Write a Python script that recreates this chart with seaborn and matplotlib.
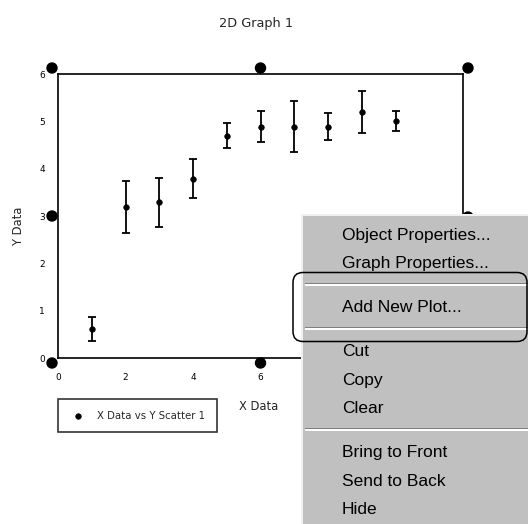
import matplotlib
matplotlib.use("Agg")
import matplotlib.pyplot as plt
import matplotlib.patches as mpatches
import matplotlib.transforms as mtransforms
import pandas as pd
import seaborn as sns

# values
x_data = [1, 2, 3, 4, 5, 6, 7, 8, 9, 10]
y_data = [0.61, 3.20, 3.29, 3.79, 4.70, 4.89, 4.89, 4.89, 5.20, 5.00]
y_err = [0.25, 0.55, 0.52, 0.42, 0.27, 0.32, 0.53, 0.29, 0.45, 0.21]
x_ticks = [0, 2, 4, 6, 8, 10, 12]
y_ticks = [0, 1, 2, 3, 4, 5, 6]
menu_items = ["Object Properties...", "Graph Properties...", None,
              "Add New Plot...", None,
              "Cut", "Copy", "Clear", None,
              "Bring to Front", "Send to Back", "Hide"]

df = pd.DataFrame({"x": x_data, "y": y_data, "err": y_err})

W, H, DPI = 528, 524, 100
sns.set_style("white")
plt.rcParams["font.family"] = ["DejaVu Sans"]

fig = plt.figure(figsize=(W / DPI, H / DPI), dpi=DPI)
# pixel coordinates, origin top-left
pix = mtransforms.Affine2D().scale(1 / DPI, -1 / DPI).translate(0, H / DPI) + fig.dpi_scale_trans

L, R, T, B = 58, 463, 74, 358
ax = fig.add_axes([L / W, 1 - B / H, (R - L) / W, (B - T) / H])

ax.errorbar(df["x"], df["y"], yerr=df["err"], fmt="none", ecolor="black",
            elinewidth=1.3, capsize=2.6, capthick=1.3, zorder=2)
sns.scatterplot(data=df, x="x", y="y", ax=ax, color="black", s=16,
                edgecolor="black", linewidth=0.5, label="X Data vs Y Scatter 1", zorder=3)

ax.set_xlim(0, 12)
ax.set_ylim(0, 6)
ax.set_xticks(x_ticks)
ax.set_yticks(y_ticks)
ax.tick_params(direction="out", length=2.5, width=1, labelsize=6.5, colors="black")
ax.tick_params(axis="x", pad=8)
ax.tick_params(axis="y", pad=7)
for sp in ax.spines.values():
    sp.set_linewidth(1.2)
    sp.set_color("black")

ax.set_xlabel("")
ax.set_ylabel("")
fig.text(259, 407, "X Data", transform=pix, fontsize=8.3, ha="center", va="center")
fig.text(18, 226, "Y Data", transform=pix, fontsize=8.3, ha="center", va="center", rotation=90)
fig.text(256, 23, "2D Graph 1", transform=pix, fontsize=9.3, ha="center", va="center")

leg = ax.legend(loc="upper left", bbox_to_anchor=(L, 399), bbox_transform=pix,
                frameon=True, fancybox=False, fontsize=7.3, borderpad=1.15,
                handlelength=1.7, handletextpad=1.0, borderaxespad=0, markerscale=1.0)
leg.get_frame().set_edgecolor("black")
leg.get_frame().set_linewidth(1.2)

# selection handles around the graph
mx, my = (L + R) / 2, (T + B) / 2
for hx, hy in [(L - 6, T - 6), (mx, T - 6), (R + 5, T - 6),
               (L - 6, my), (R + 5, my + 1),
               (L - 6, B + 5), (mx, B + 5), (R + 5, B + 5)]:
    fig.add_artist(mpatches.Circle((hx, hy), 5, transform=pix, color="black", zorder=5))

# context menu
mleft, mtop = 301, 214
fig.add_artist(mpatches.Rectangle((mleft, mtop), W - mleft + 2, H - mtop + 2, transform=pix,
                                  facecolor="#c0c0c0", edgecolor="none", zorder=10))
fig.add_artist(mpatches.Rectangle((mleft, mtop), 1.5, H - mtop + 2, transform=pix,
                                  facecolor="#f0f0f0", edgecolor="none", zorder=11))
fig.add_artist(mpatches.Rectangle((mleft, mtop), W - mleft + 2, 1.5, transform=pix,
                                  facecolor="#f0f0f0", edgecolor="none", zorder=11))

y = 219
for item in menu_items:
    if item is None:
        sy = y + 7.5
        fig.add_artist(mpatches.Rectangle((305, sy - 1), W - 305, 1.3, transform=pix,
                                          facecolor="#808080", edgecolor="none", zorder=11))
        fig.add_artist(mpatches.Rectangle((305, sy + 0.8), W - 305, 1.3, transform=pix,
                                          facecolor="#ffffff", edgecolor="none", zorder=11))
        y += 15.5
    else:
        fig.text(342, y + 14.25 + 6.3, item, transform=pix, fontsize=12.5,
                 family=["Liberation Sans", "DejaVu Sans"], ha="left", va="baseline",
                 color="black", zorder=12)
        y += 28.5

# rounded outline around "Add New Plot..."
fig.add_artist(mpatches.FancyBboxPatch((293, 272.5), 234, 69,
                                       boxstyle="round,pad=0,rounding_size=10", transform=pix,
                                       facecolor="none", edgecolor="black", linewidth=1.1, zorder=13))

fig.savefig("out.png", dpi=DPI)
